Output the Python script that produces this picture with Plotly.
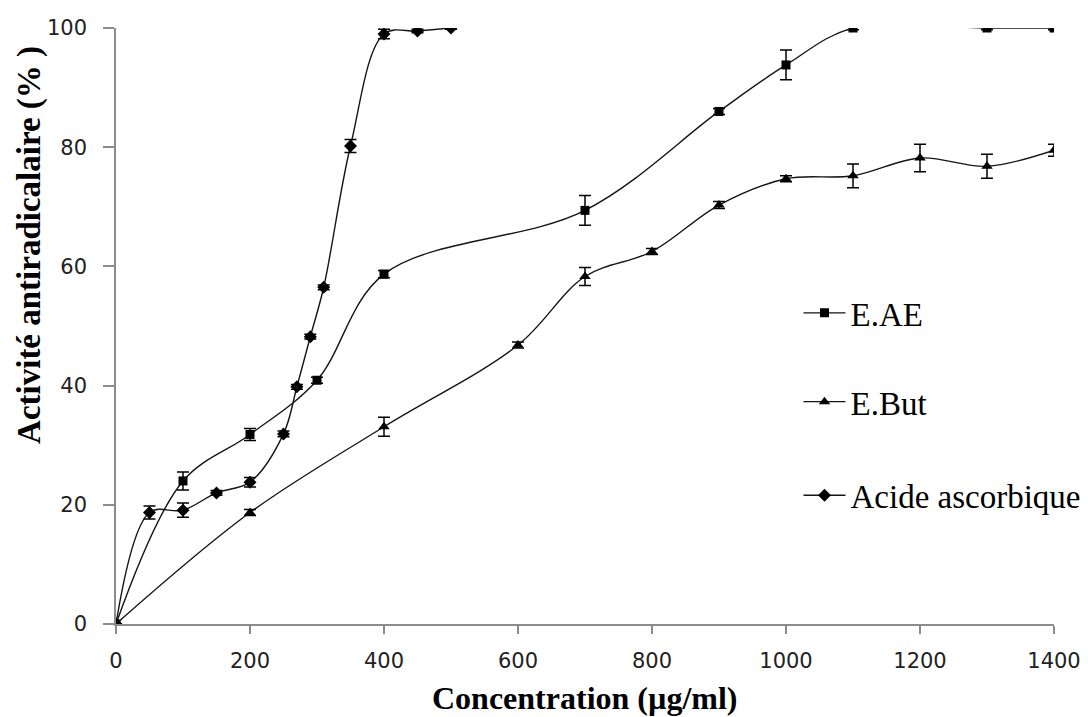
import plotly.graph_objects as go

# ---- data ----
eae_x = [0, 100, 200, 300, 400, 700, 900, 1000, 1100, 1300, 1400]
eae_y = [0, 24, 31.8, 40.9, 58.7, 69.4, 86, 93.8, 100, 100, 100]
eae_err = [0, 1.5, 1.0, 0.5, 0.6, 2.5, 0.5, 2.5, 0.3, 0.3, 0.3]

but_x = [0, 200, 400, 600, 700, 800, 900, 1000, 1100, 1200, 1300, 1400]
but_y = [0, 18.7, 33.1, 46.8, 58.3, 62.5, 70.3, 74.7, 75.2, 78.2, 76.8, 79.5]
but_err = [0, 0.5, 1.6, 0.5, 1.5, 0.5, 0.6, 0.5, 2.0, 2.3, 2.0, 1.0]

acid_x = [0, 50, 100, 150, 200, 250, 270, 290, 310, 350, 400, 450, 500]
acid_y = [0, 18.7, 19.1, 22, 23.8, 31.9, 39.8, 48.2, 56.5, 80.2, 99, 99.5, 100]
acid_err = [0, 1.1, 1.2, 0.4, 0.8, 0.5, 0.4, 0.4, 0.4, 1.1, 0.8, 0.3, 0.2]

series_names = ["E.AE", "E.But", "Acide ascorbique"]
x_ticks = [0, 200, 400, 600, 800, 1000, 1200, 1400]
y_ticks = [0, 20, 40, 60, 80, 100]

fig = go.Figure()

def add(name, xs, ys, errs, symbol, size, legend):
    fig.add_trace(go.Scatter(
        x=xs, y=ys, name=name, mode="lines+markers",
        line=dict(color="#151515", width=1.4, shape="spline", smoothing=1.0),
        marker=dict(symbol=symbol, size=size, color="black"),
        error_y=dict(type="data", array=errs, visible=True, color="black",
                     thickness=1.5, width=6),
        legend=legend, cliponaxis=True,
    ))

add(series_names[0], eae_x, eae_y, eae_err, "square", 9, "legend")
add(series_names[1], but_x, but_y, but_err, "triangle-up", 10, "legend2")
add(series_names[2], acid_x, acid_y, acid_err, "diamond", 10, "legend3")

leg_font = dict(family="Liberation Serif", size=33, color="black")
def leg(ypos):
    return dict(x=0.7276, y=ypos, xanchor="left", yanchor="middle",
                font=leg_font, bgcolor="rgba(0,0,0,0)", borderwidth=0,
                itemwidth=42)

axis_common = dict(showgrid=False, zeroline=False, showline=True,
                   linecolor="#8c8c8c", linewidth=1.5, ticks="outside",
                   tickcolor="#8c8c8c", tickwidth=1.5, automargin=False,
                   tickfont=dict(family="DejaVu Sans", size=21, color="#222222"))

# page body has an 8px margin, so the figure is 8px smaller and margins shifted
fig.update_layout(
    width=1080, height=709,
    margin=dict(l=108, r=34, t=20, b=93, autoexpand=False),
    plot_bgcolor="white", paper_bgcolor="white",
    showlegend=True,
    legend=leg(0.522), legend2=leg(0.373), legend3=leg(0.216),
    xaxis=dict(range=[0, 1400], tickvals=x_ticks, ticklen=8,
               ticklabelstandoff=9, **axis_common),
    yaxis=dict(range=[0, 100], tickvals=y_ticks, ticklen=11,
               ticklabelstandoff=12, **axis_common),
    annotations=[
        dict(text="<b>Concentration (µg/ml)</b>", xref="paper", yref="paper",
             x=0.5, y=-0.1245, xanchor="center", yanchor="middle",
             showarrow=False,
             font=dict(family="Liberation Serif", size=32, color="black")),
        dict(text="<b>Activité antiradicalaire (% )</b>", xref="paper", yref="paper",
             x=-0.0917, y=0.636, xanchor="center", yanchor="middle",
             textangle=-90, showarrow=False,
             font=dict(family="Liberation Serif", size=33, color="black")),
    ],
)

fig.write_html("out.html")
